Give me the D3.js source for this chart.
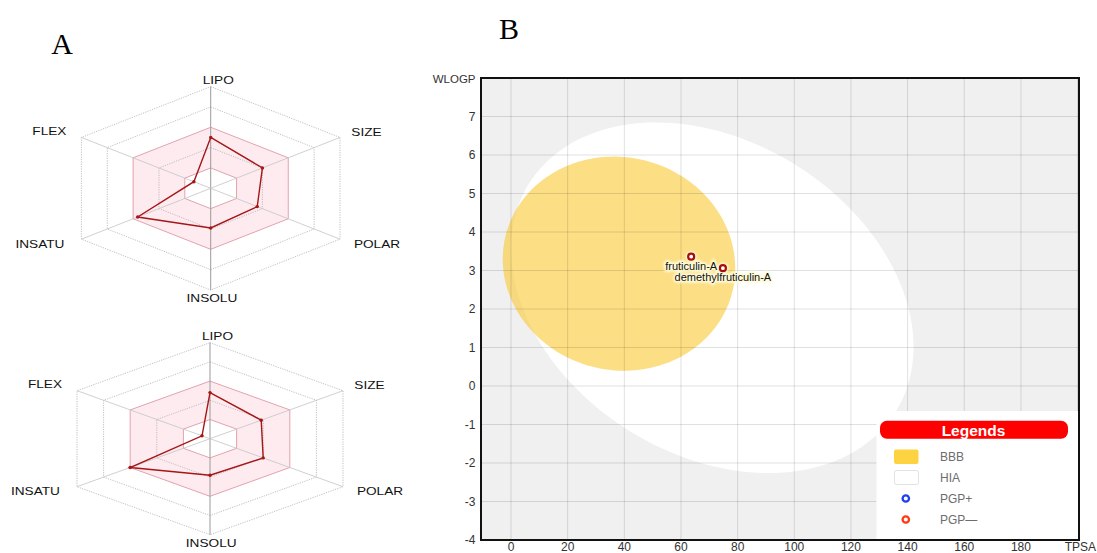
<!DOCTYPE html>
<html>
<head>
<meta charset="utf-8">
<script src="https://cdn.jsdelivr.net/npm/d3@7"></script>
<style>
  html, body { margin: 0; padding: 0; background: #fff; }
  svg { display: block; font-family: "Liberation Sans", Arial, sans-serif; }
</style>
</head>
<body>
<svg id="chart" width="1097" height="553"></svg>
<script>
// ---- Bioavailability radar: six properties, value = fraction of axis length ----
const radarAxes = ["LIPO", "SIZE", "POLAR", "INSOLU", "INSATU", "FLEX"];
const radarFruticulin = [0.50, 0.40, 0.36, 0.39, 0.565, 0.13];
const radarDemethyl = [0.48, 0.385, 0.40, 0.38, 0.60, 0.06];
const radarRings = [0.2, 0.4, 0.6, 0.8, 1.0];
const optimalBand = [0.2, 0.6];

// ---- BOILED-Egg: TPSA vs WLOGP ----
const compoundNames = ["fruticulin-A", "demethylfruticulin-A"];
const compoundTPSA = [63.6, 74.8];
const compoundWLOGP = [3.36, 3.06];
const xTicks = [0, 20, 40, 60, 80, 100, 120, 140, 160, 180];
const yTicks = [-4, -3, -2, -1, 0, 1, 2, 3, 4, 5, 6, 7];
// region ellipses: centre TPSA, centre WLOGP, semi-axis TPSA, semi-axis WLOGP, rotation (deg)
const hiaRegion = [71.051, 2.292, 71.0405, 4.37, -1.031325];
const bbbRegion = [38.117, 3.177, 41.0305, 2.7785, -0.17];
const legendLabels = ["BBB", "HIA", "PGP+", "PGP\u2014"];

const svg = d3.select("#chart");

const defs = svg.append("defs");
defs.append("filter").attr("id", "glow")
  .attr("x", "-30%").attr("y", "-60%").attr("width", "160%").attr("height", "220%")
  .append("feGaussianBlur").attr("stdDeviation", 1.1);

// ================= Panel A: radars =================
function drawRadar(cx, cy, Rx, Ry, values, labelOffsets) {
  const g = svg.append("g");
  const sx = d3.scaleLinear().domain([0, 1]).range([0, Rx]);
  const sy = d3.scaleLinear().domain([0, 1]).range([0, Ry]);
  const ang = i => i * Math.PI / 3;
  const pt = (i, f) => [cx + Math.sin(ang(i)) * sx(f), cy - Math.cos(ang(i)) * sy(f)];
  const ring = f => radarAxes.map((_, i) => pt(i, f));
  const closed = d3.line().curve(d3.curveLinearClosed);

  // optimal band (pink)
  g.append("path")
    .attr("d", closed(ring(optimalBand[1])) + closed(ring(optimalBand[0])))
    .attr("fill-rule", "evenodd")
    .attr("fill", "#fdebf0")
    .attr("stroke", "#e2a3ae")
    .attr("stroke-width", 1);

  // grid rings
  radarRings.filter(f => !optimalBand.includes(f)).forEach(f => {
    g.append("path").attr("d", closed(ring(f)))
      .attr("fill", "none").attr("stroke", "#b0b0b0")
      .attr("stroke-width", 0.8).attr("stroke-dasharray", "1.2,1.2");
  });

  // spokes
  radarAxes.forEach((_, i) => {
    const [x, y] = pt(i, 1);
    g.append("line").attr("x1", cx).attr("y1", cy).attr("x2", x).attr("y2", y)
      .attr("stroke", i === 0 || i === 3 ? "#9a9a9a" : "#c4c4c4")
      .attr("stroke-width", i === 0 || i === 3 ? 1 : 0.8);
  });

  // compound profile
  const pts = values.map((v, i) => pt(i, v));
  g.append("path").attr("d", closed(pts))
    .attr("fill", "none").attr("stroke", "#a51616").attr("stroke-width", 1.4);
  g.selectAll("circle.v").data(pts).join("circle")
    .attr("cx", d => d[0]).attr("cy", d => d[1]).attr("r", 1.7)
    .attr("fill", "#a51616");

  // axis names
  radarAxes.forEach((name, i) => {
    const [x, y] = pt(i, 1);
    const [dx, dy] = labelOffsets[i];
    g.append("text")
      .attr("transform", `translate(${x + dx},${y + dy}) scale(1.3,1)`)
      .attr("text-anchor", "middle").attr("dominant-baseline", "central")
      .attr("font-size", 10.5).attr("fill", "#111").text(name);
  });
}

const radarLabelOffsets = [[7.5, -6.5], [26.5, -5], [37, 5], [1.2, 8.5], [-41.5, 5], [-32, -6.3]];
drawRadar(210.7, 188.3, 149.3, 101.7, radarFruticulin, radarLabelOffsets);
drawRadar(210, 438.7, 153.6, 96, radarDemethyl, radarLabelOffsets);

svg.append("text").attr("x", 62).attr("y", 53.5).attr("text-anchor", "middle")
  .attr("font-family", "'Liberation Serif', 'Times New Roman', serif")
  .attr("font-size", 30).attr("fill", "#000").text("A");
svg.append("text").attr("x", 509).attr("y", 38.5).attr("text-anchor", "middle")
  .attr("font-family", "'Liberation Serif', 'Times New Roman', serif")
  .attr("font-size", 30).attr("fill", "#000").text("B");

// ================= Panel B: BOILED-Egg =================
const plot = { left: 481, right: 1079, top: 78, bottom: 540 };
const x = d3.scaleLinear().domain([-10.59, 200.5]).range([plot.left, plot.right]);
const y = d3.scaleLinear().domain([-4, 8]).range([plot.bottom, plot.top]);

defs.append("clipPath").attr("id", "plotClip").append("rect")
  .attr("x", plot.left).attr("y", plot.top)
  .attr("width", plot.right - plot.left).attr("height", plot.bottom - plot.top);

const egg = svg.append("g").attr("clip-path", "url(#plotClip)");
egg.append("rect").attr("x", plot.left).attr("y", plot.top)
  .attr("width", plot.right - plot.left).attr("height", plot.bottom - plot.top)
  .attr("fill", "#f0f0f0");

function ellipsePath([cxv, cyv, a, b, deg]) {
  const th = deg * Math.PI / 180;
  const pts = d3.range(0, 2 * Math.PI, Math.PI / 90).map(t => {
    const ex = a * Math.cos(t), ey = b * Math.sin(t);
    return [x(cxv + ex * Math.cos(th) - ey * Math.sin(th)),
            y(cyv + ex * Math.sin(th) + ey * Math.cos(th))];
  });
  return d3.line().curve(d3.curveLinearClosed)(pts);
}

egg.append("path").attr("d", ellipsePath(hiaRegion)).attr("fill", "#ffffff");
egg.append("path").attr("d", ellipsePath(bbbRegion))
  .attr("fill", "rgb(250,200,50)").attr("fill-opacity", 0.6);

// grid
egg.append("g").selectAll("line").data(xTicks.concat([200])).join("line")
  .attr("x1", d => x(d)).attr("x2", d => x(d))
  .attr("y1", plot.top).attr("y2", plot.bottom)
  .attr("stroke", "rgba(0,0,0,0.12)").attr("stroke-width", 1);
egg.append("g").selectAll("line").data(yTicks).join("line")
  .attr("x1", plot.left).attr("x2", plot.right)
  .attr("y1", d => y(d)).attr("y2", d => y(d))
  .attr("stroke", "rgba(0,0,0,0.12)").attr("stroke-width", 1);

// compounds
const cmp = compoundNames.map((n, i) => ({ name: n, tpsa: compoundTPSA[i], wlogp: compoundWLOGP[i] }));
const cg = egg.append("g");
// soft halo behind points and names
cg.selectAll("circle.halo").data(cmp).join("circle")
  .attr("cx", d => x(d.tpsa)).attr("cy", d => y(d.wlogp)).attr("r", 5.5)
  .attr("fill", "#fffbd8").attr("filter", "url(#glow)");
cg.selectAll("text.halo").data(cmp).join("text")
  .attr("x", d => x(d.tpsa)).attr("y", d => y(d.wlogp) + 9.3)
  .attr("text-anchor", "middle").attr("dominant-baseline", "central")
  .attr("font-size", 11).attr("fill", "#fffbd8").attr("stroke", "#fffbd8")
  .attr("stroke-width", 3.5).attr("filter", "url(#glow)").text(d => d.name);
cg.selectAll("text.name").data(cmp).join("text")
  .attr("x", d => x(d.tpsa)).attr("y", d => y(d.wlogp) + 9.3)
  .attr("text-anchor", "middle").attr("dominant-baseline", "central")
  .attr("font-size", 11).attr("fill", "#111").text(d => d.name);
cg.selectAll("circle.pt").data(cmp).join("circle")
  .attr("cx", d => x(d.tpsa)).attr("cy", d => y(d.wlogp)).attr("r", 3)
  .attr("fill", "#fff").attr("stroke", "#a80d0d").attr("stroke-width", 2.2);

// legend
const lg = svg.append("g");
lg.append("rect").attr("x", 876.5).attr("y", 411).attr("width", 203).attr("height", 128).attr("fill", "#fff");
lg.append("rect").attr("x", 880).attr("y", 420.7).attr("width", 188).attr("height", 18)
  .attr("rx", 7).attr("fill", "#ff0000");
lg.append("text").attr("x", 973.5).attr("y", 430.5).attr("text-anchor", "middle")
  .attr("dominant-baseline", "central").attr("font-size", 15.5).attr("font-weight", "bold")
  .attr("fill", "#fff").text("Legends");
const rowY = [456.5, 477.5, 498.5, 519.5];
lg.append("rect").attr("x", 894).attr("y", rowY[0] - 7).attr("width", 24.5).attr("height", 14.5)
  .attr("rx", 2).attr("fill", "#fdd341");
lg.append("rect").attr("x", 894.5).attr("y", rowY[1] - 7).attr("width", 24).attr("height", 14)
  .attr("rx", 2).attr("fill", "#fff").attr("stroke", "#e2e2e2");
lg.append("circle").attr("cx", 905.8).attr("cy", rowY[2]).attr("r", 3.2)
  .attr("fill", "#fff").attr("stroke", "#1f3ff2").attr("stroke-width", 2.3);
lg.append("circle").attr("cx", 905.8).attr("cy", rowY[3]).attr("r", 3.2)
  .attr("fill", "#fff").attr("stroke", "#ff3a12").attr("stroke-width", 2.3);
lg.selectAll("text.item").data(legendLabels).join("text")
  .attr("x", 940).attr("y", (d, i) => rowY[i])
  .attr("dominant-baseline", "central").attr("font-size", 12).attr("fill", "#6d6d6d")
  .text(d => d);

// frame
svg.append("rect").attr("x", plot.left).attr("y", plot.top)
  .attr("width", plot.right - plot.left).attr("height", plot.bottom - plot.top)
  .attr("fill", "none").attr("stroke", "#111").attr("stroke-width", 2);

// axes labels
svg.append("g").selectAll("text").data(xTicks).join("text")
  .attr("x", d => x(d)).attr("y", 547).attr("text-anchor", "middle")
  .attr("dominant-baseline", "central").attr("font-size", 12).attr("fill", "#333")
  .text(d => d);
svg.append("g").selectAll("text").data(yTicks).join("text")
  .attr("x", 475.5).attr("y", d => y(d)).attr("text-anchor", "end")
  .attr("dominant-baseline", "central").attr("font-size", 12).attr("fill", "#333")
  .text(d => d);
svg.append("text").attr("x", 475.5).attr("y", 79).attr("text-anchor", "end")
  .attr("dominant-baseline", "central").attr("font-size", 11.5).attr("fill", "#333").text("WLOGP");
svg.append("text").attr("x", 1096).attr("y", 547).attr("text-anchor", "end")
  .attr("dominant-baseline", "central").attr("font-size", 12).attr("fill", "#333").text("TPSA");
</script>
</body>
</html>
